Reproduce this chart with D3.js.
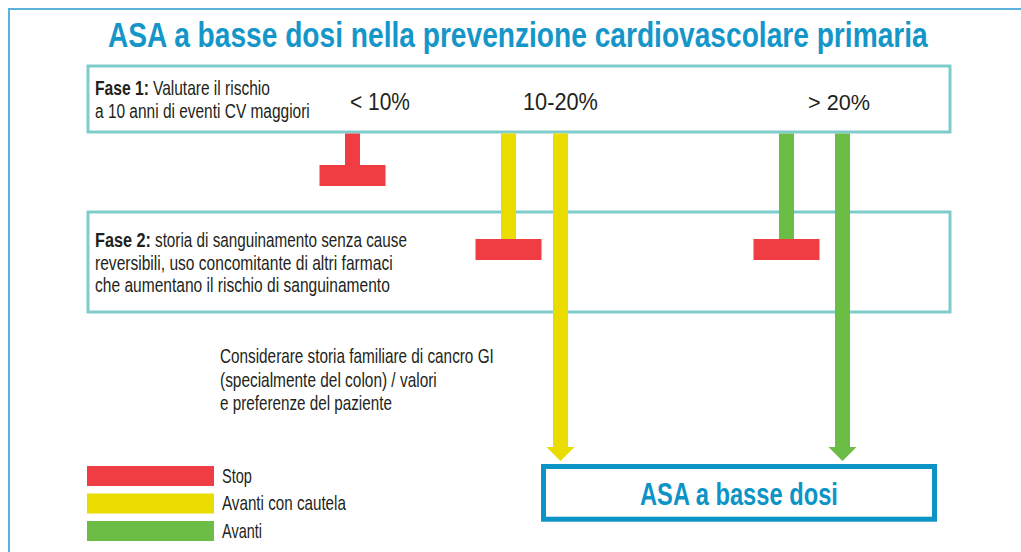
<!DOCTYPE html>
<html>
<head>
<meta charset="utf-8">
<script src="https://cdn.jsdelivr.net/npm/d3@7"></script>
<style>
  body { margin: 0; background: #fff; }
  text { font-family: "Liberation Sans Narrow", "Liberation Sans", Arial, sans-serif; }
</style>
</head>
<body>
<div id="chart"></div>
<script>
// chart content
var title = "ASA a basse dosi nella prevenzione cardiovascolare primaria";
var riskLevels = ["< 10%", "10-20%", "> 20%"];
var fase1Lines = [["Fase 1:", "Valutare il rischio"], ["", "a 10 anni di eventi CV maggiori"]];
var fase2Lines = [["Fase 2:", "storia di sanguinamento senza cause"],
                  ["", "reversibili, uso concomitante di altri farmaci"],
                  ["", "che aumentano il rischio di sanguinamento"]];
var noteLines = ["Considerare storia familiare di cancro GI",
                 "(specialmente del colon) / valori",
                 "e preferenze del paziente"];
var legendLabels = ["Stop", "Avanti con cautela", "Avanti"];
var legendColors = ["#ef3d43", "#ebdc00", "#6cbd46"];
var outcomeLabel = "ASA a basse dosi";

// one branch per coloured line leaving Fase 1
var branchRisk    = ["< 10%", "10-20%", "10-20%", "> 20%", "> 20%"];
var branchOutcome = ["Stop", "Avanti con cautela", "Avanti con cautela", "Avanti", "Avanti"];
var branchEnd     = ["Fase 1", "Fase 2", "ASA", "Fase 2", "ASA"];

function start(){
    var width = 1021, height = 552;
    var teal = "#7fcdca", blue = "#0d94c6", ink = "#231f20";

    var svg = d3.select("#chart").append("svg")
        .attr("width", width)
        .attr("height", height);

    // scales for the flow layout
    var laneX = d3.scaleOrdinal().domain(d3.range(branchEnd.length))
        .range([352.5, 508.5, 560.5, 786.5, 842.5]);
    var endY = d3.scaleOrdinal().domain(["Fase 1", "Fase 2", "ASA"])
        .range([165, 239, 461]);
    var riskX = d3.scaleOrdinal().domain(riskLevels).range([350, 523, 808]);
    var riskW = d3.scaleOrdinal().domain(riskLevels).range([60, 75, 62]);
    var color = d3.scaleOrdinal().domain(legendLabels).range(legendColors);
    var legendY = d3.scaleBand().domain(legendLabels).range([466, 541]).paddingInner(0.273);

    // squeeze a text horizontally so it spans w pixels (condensed look)
    function label(x, y, str, size, w, opts){
        opts = opts || {};
        var g = svg.append("text")
            .attr("x", 0).attr("y", 0)
            .attr("fill", opts.fill || ink)
            .style("font-size", size + "px")
            .style("font-weight", opts.bold ? "bold" : "normal")
            .text(str);
        var natural = g.node().getComputedTextLength();
        g.attr("transform", "translate(" + x + "," + y + ") scale(" + (w / natural) + ",1)");
        return g;
    }

    // outer frame
    svg.append("rect")
       .attr("x", 9).attr("y", 9)
       .attr("width", 1100).attr("height", 600)
       .attr("fill", "none")
       .attr("stroke", "#5bb3dc")
       .attr("stroke-width", 2);

    label(108, 47, title, 36, 820, {bold: true, fill: "#1596c9"});

    // phase boxes
    svg.append("rect")
       .attr("x", 88).attr("y", 66).attr("width", 862).attr("height", 66)
       .attr("fill", "none").attr("stroke", teal).attr("stroke-width", 3);
    svg.append("rect")
       .attr("x", 88).attr("y", 212).attr("width", 862).attr("height", 100)
       .attr("fill", "none").attr("stroke", teal).attr("stroke-width", 3);

    function block(lines, x, y0, step, size, widths){
        lines.forEach(function(l, i){
            var y = y0 + i * step;
            var w = widths[i];
            if (l[0]) {
                label(x, y, l[0], size, w[0], {bold: true});
                label(x + w[0] + 4, y, l[1], size, w[1]);
            } else {
                label(x, y, l[1], size, w[1]);
            }
        });
    }
    block(fase1Lines, 95, 94.5, 23, 20, [[54, 117], [0, 215]]);
    block(fase2Lines, 95, 246.7, 22.8, 20.5, [[56, 252], [0, 298], [0, 295]]);

    riskLevels.forEach(function(d){
        label(riskX(d), 109.5, d, 23, riskW(d));
    });

    // branches
    var branches = branchEnd.map(function(e, i){
        return {i: i, risk: branchRisk[i], outcome: branchOutcome[i], end: e};
    });
    var shaft = 15, barW = 66, barH = 21, headW = 28, headH = 14;

    branches.forEach(function(d){
        var cx = laneX(d.i), yEnd = endY(d.end), c = color(d.outcome);
        if (d.end === "ASA") {
            var p = d3.path();
            p.moveTo(cx - shaft / 2, 133.5);
            p.lineTo(cx + shaft / 2, 133.5);
            p.lineTo(cx + shaft / 2, yEnd - headH);
            p.lineTo(cx + headW / 2, yEnd - headH);
            p.lineTo(cx, yEnd);
            p.lineTo(cx - headW / 2, yEnd - headH);
            p.lineTo(cx - shaft / 2, yEnd - headH);
            p.closePath();
            svg.append("path").attr("d", p.toString()).attr("fill", c);
        } else {
            svg.append("rect")
               .attr("x", cx - shaft / 2).attr("y", 133.5)
               .attr("width", shaft).attr("height", yEnd - 133.5)
               .attr("fill", c);
            svg.append("rect")
               .attr("x", cx - barW / 2).attr("y", yEnd)
               .attr("width", barW).attr("height", barH)
               .attr("fill", color("Stop"));
        }
    });

    // note
    var noteW = [274, 217, 172];
    noteLines.forEach(function(d, i){
        label(220, 363.3 + i * 23.3, d, 20.5, noteW[i]);
    });

    // outcome box
    svg.append("rect")
       .attr("x", 543.5).attr("y", 466.5)
       .attr("width", 391).attr("height", 52.7)
       .attr("fill", "none").attr("stroke", blue).attr("stroke-width", 5);
    label(640, 505, outcomeLabel, 31, 198, {bold: true, fill: blue});

    // legend
    var legW = [30, 124, 40];
    svg.selectAll(".leg").data(legendLabels).enter()
       .append("rect")
       .attr("class", "leg")
       .attr("x", 87)
       .attr("y", function(d){ return legendY(d); })
       .attr("width", 127)
       .attr("height", legendY.bandwidth())
       .attr("fill", function(d){ return color(d); });
    legendLabels.forEach(function(d, i){
        label(222, legendY(d) + 16.5, d, 20.5, legW[i]);
    });
}

start();
</script>
</body>
</html>
